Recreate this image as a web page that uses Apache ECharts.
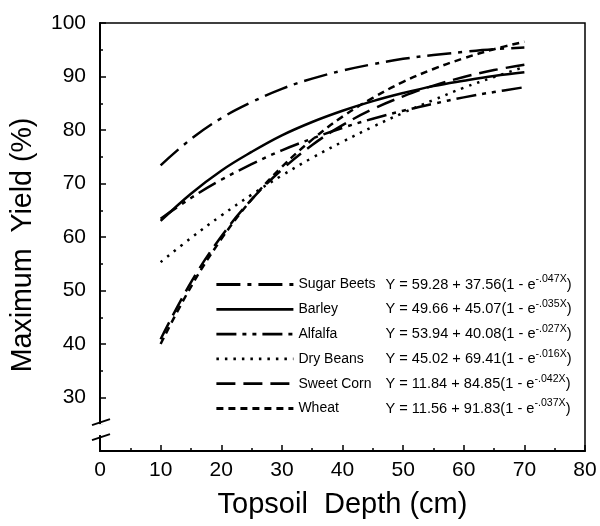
<!DOCTYPE html>
<html><head><meta charset="utf-8">
<script src="https://cdn.jsdelivr.net/npm/echarts@6/dist/echarts.min.js"></script>
<style>html,body{margin:0;padding:0;background:#fff}#c{width:600px;height:526px}</style>
</head><body><div id="c"></div>
<script>
const depths = [10, 15, 20, 25, 30, 35, 40, 45, 50, 55, 60, 65, 70];
const sugarBeets = [73.4, 78.3, 82.2, 85.2, 87.7, 89.6, 91.1, 92.3, 93.3, 94.0, 94.6, 95.1, 95.4];
const barley = [63.0, 68.1, 72.4, 75.9, 79.0, 81.5, 83.6, 85.4, 86.9, 88.2, 89.2, 90.1, 90.8];
const alfalfa = [63.4, 67.3, 70.7, 73.6, 76.2, 78.4, 80.4, 82.1, 83.6, 84.9, 86.1, 87.1, 88.0];
const dryBeans = [55.3, 59.8, 64.0, 67.9, 71.5, 74.8, 77.8, 80.6, 83.2, 85.6, 87.9, 89.9, 91.8];
const sweetCorn = [40.9, 51.5, 60.1, 67.0, 72.6, 77.2, 80.9, 83.9, 86.3, 88.3, 89.9, 91.2, 92.2];
const wheat = [40.0, 50.7, 59.6, 67.0, 73.1, 78.2, 82.5, 86.0, 89.0, 91.4, 93.4, 95.1, 96.5];

const seriesNames = ['Sugar Beets', 'Barley', 'Alfalfa', 'Dry Beans', 'Sweet Corn', 'Wheat'];
const equationBodies = [
  'Y = 59.28 + 37.56(1 - e',
  'Y = 49.66 + 45.07(1 - e',
  'Y = 53.94 + 40.08(1 - e',
  'Y = 45.02 + 69.41(1 - e',
  'Y = 11.84 + 84.85(1 - e',
  'Y = 11.56 + 91.83(1 - e'
];
const equationExponents = ['-.047X', '-.035X', '-.027X', '-.016X', '-.042X', '-.037X'];
const xTickLabels = ['0', '10', '20', '30', '40', '50', '60', '70', '80'];
const yTickLabels = ['30', '40', '50', '60', '70', '80', '90', '100'];
const xAxisTitle = 'Topsoil  Depth (cm)';
const yAxisTitle = 'Maximum  Yield (%)';

const valueSets = [sugarBeets, barley, alfalfa, dryBeans, sweetCorn, wheat];
const dashStyles = [[24, 7, 4, 7], 'solid', [20, 6, 4, 6, 4, 6], [2.5, 6], [19, 8], [7, 5]];

const FONT = '"Liberation Sans", Arial, Helvetica, sans-serif';
const chart = echarts.init(document.getElementById('c'), null, {renderer: 'canvas'});

const series = seriesNames.map((name, i) => ({
  name: name,
  type: 'line',
  smooth: 0.4,
  symbol: 'none',
  data: depths.map((d, j) => [d, valueSets[i][j]]),
  lineStyle: {color: '#000', width: 2.5, type: dashStyles[i], cap: 'butt'},
  itemStyle: {color: '#000'},
  z: 3
}));

chart.setOption({
  animation: false,
  backgroundColor: '#fff',
  grid: {left: 100, right: 15, top: 23, bottom: 75, show: true, borderColor: '#000', borderWidth: 1.5, backgroundColor: 'transparent'},
  xAxis: {
    type: 'value', min: 0, max: 80, interval: 10,
    name: xAxisTitle, nameLocation: 'middle', nameGap: 39,
    nameTextStyle: {fontFamily: FONT, fontSize: 29, color: '#000'},
    axisLine: {lineStyle: {color: '#000', width: 2}},
    axisTick: {inside: true, length: 6, lineStyle: {color: '#000', width: 1.5}},
    minorTick: {show: true, splitNumber: 2, length: 3, lineStyle: {color: '#000', width: 1.5}},
    splitLine: {show: false},
    axisLabel: {margin: 9, fontFamily: FONT, fontSize: 21, color: '#000',
      formatter: v => xTickLabels[Math.round(v / 10)] || ''}
  },
  yAxis: {
    type: 'value', min: 20, max: 100, interval: 10,
    name: yAxisTitle, nameLocation: 'middle', nameGap: 62,
    nameTextStyle: {fontFamily: FONT, fontSize: 28.6, color: '#000', padding: [0, 16, 0, 0]},
    axisLine: {lineStyle: {color: '#000', width: 2}},
    axisTick: {inside: true, length: 6, lineStyle: {color: '#000', width: 1.5}},
    minorTick: {show: true, splitNumber: 2, length: 3, lineStyle: {color: '#000', width: 1.5}},
    splitLine: {show: false},
    axisLabel: {margin: 14, fontFamily: FONT, fontSize: 21, color: '#000',
      formatter: v => yTickLabels[Math.round(v / 10) - 3] || ''}
  },
  legend: {
    data: seriesNames,
    orient: 'vertical',
    left: 210, top: 269,
    itemWidth: 77, itemHeight: 12, itemGap: 6.8,
    itemStyle: {opacity: 0},
    lineStyle: {width: 2.8},
    selectedMode: false,
    formatter: name => {
      const i = seriesNames.indexOf(name);
      return '{n|' + name + '}{e|' + equationBodies[i] + '}{s|' + equationExponents[i] + '}{e|)}';
    },
    textStyle: {
      fontFamily: FONT, color: '#000', fontSize: 14,
      rich: {
        n: {width: 87, fontSize: 14, fontFamily: FONT, color: '#000', lineHeight: 18},
        e: {fontSize: 14.6, fontFamily: FONT, color: '#000', lineHeight: 18},
        s: {fontSize: 10.6, fontFamily: FONT, color: '#000', padding: [0, 0, 10, 0]}
      }
    }
  },
  series: series
});

// axis break marks on the y axis
const p1 = chart.convertToPixel({gridIndex: 0}, [0, 25.4]);
const p2 = chart.convertToPixel({gridIndex: 0}, [0, 22.6]);
chart.setOption({
  graphic: [
    {type: 'rect', shape: {x: p1[0] - 4, y: p1[1] + 2, width: 8, height: p2[1] - p1[1] - 4}, style: {fill: '#fff'}, z: 100},
    {type: 'line', shape: {x1: p1[0] - 8, y1: p1[1] + 3, x2: p1[0] + 10, y2: p1[1] - 3}, style: {stroke: '#000', lineWidth: 2}, z: 101},
    {type: 'line', shape: {x1: p2[0] - 8, y1: p2[1] + 3, x2: p2[0] + 10, y2: p2[1] - 3}, style: {stroke: '#000', lineWidth: 2}, z: 101}
  ]
});
</script></body></html>
